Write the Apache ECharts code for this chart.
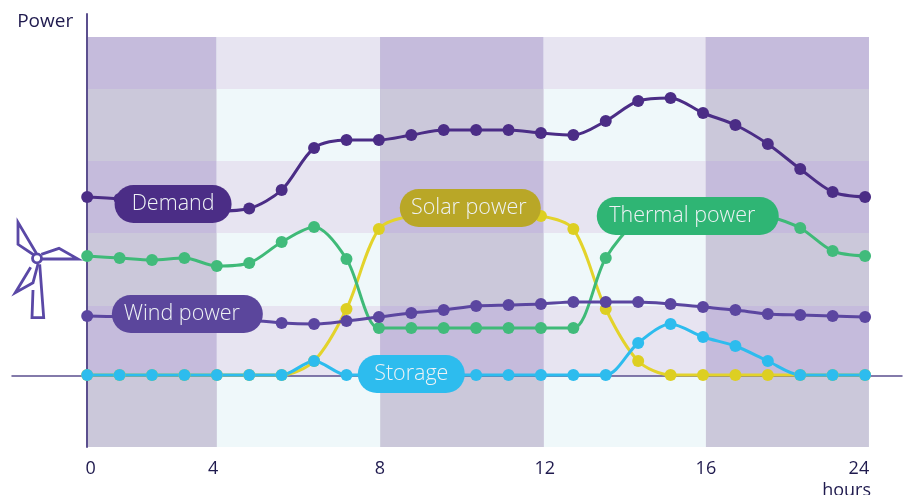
<!DOCTYPE html>
<html>
<head>
<meta charset="utf-8">
<style>html,body{margin:0;padding:0;background:#fff}#chart{width:909px;height:495px}</style>
<script src="https://cdn.jsdelivr.net/npm/echarts@6/dist/echarts.min.js"></script>
</head>
<body>
<div id="chart"></div>
<script>
// Daily power balance: sampling slots along the time axis.
const slots = [0,1,2,3,4,5,6,7,8,9,10,11,12,13,14,15,16,17,18,19,20,21,22,23,24];

const demand  = [179,177,173,168,165,167.5,186,228,236,236,241,246,246,246,243,241,255,275,278,263,251,232,207,184,179];
const thermal = [120,118,116,118,110,113,134,149,117,48,48,48,48,48,48,48,118,156,166,168,166,160,148,125,120];
const wind    = [60,59.5,59.5,59,58,56,53,52,55,59,63,66,70,71,72,74,74,74,72,69,66,62,61,60,59];
const solar   = [1,1,1,1,1,1,1,15,67,147,160,162,162,162,160,147,67,15,1,1,1,1,1,1,1];
const storage = [1,1,1,1,1,1,1,15,1,1,1,1,1,1,1,1,1,33,52,39,30,15,1,1,1];

// Time-axis labels and the slots they sit over.
const tickLabels = ['0','4','8','12','16','24'];
const tickSlots  = [0.11,3.89,9.03,14.12,19.09,23.81];

// Shaded day periods (columns) and power levels (rows).
const columnEdges = [0,4,9.04,14.09,19.09,24.12];
const rowEdges    = [-71,0,70,143,215,287,339];
const darkColumns = [true,false,true,false,true];
const darkRows    = [false,true,false,true,false,true];

const cellColor = (col, row) =>
  col ? (row ? '#c5bbdc' : '#cbc8da') : (row ? '#e7e4f1' : '#eff8fa');

// Each cell runs to the far corner and is painted over by the next one,
// which keeps hairline seams from showing between neighbours.
const bandCells = [];
darkColumns.forEach((col, c) => darkRows.forEach((row, r) => {
  bandCells.push([
    {xAxis: columnEdges[c], yAxis: rowEdges[r], itemStyle: {color: cellColor(col, row)}},
    {xAxis: columnEdges[columnEdges.length - 1], yAxis: rowEdges[rowEdges.length - 1]}
  ]);
}));

const font = '"Open Sans", "Noto Sans", sans-serif';

// Pill-shaped caption attached to a series; textShift nudges the words left inside the pill.
function pill(text, x, y, width, color, textShift) {
  return {
    z: 20,
    silent: true,
    symbol: 'circle',
    symbolSize: 0,
    data: [{coord: [x, y]}],
    label: {
      show: true, position: 'inside', formatter: text,
      width: width - textShift, height: 38, lineHeight: 38,
      padding: [0, textShift, 0, 0],
      align: 'center', verticalAlign: 'middle',
      backgroundColor: color, borderRadius: 19,
      color: '#eef2f5', fontFamily: font, fontSize: 21.5, fontWeight: 300
    }
  };
}

function line(name, values, color, markerColor, caption) {
  return {
    name, type: 'line', smooth: 0.3, z: 5,
    data: values.map((v, i) => [slots[i], v]),
    symbol: 'circle', symbolSize: 12, showSymbol: true,
    lineStyle: {color, width: 3},
    itemStyle: {color: markerColor},
    silent: true, animation: false,
    markPoint: caption
  };
}

const chart = echarts.init(document.getElementById('chart'), null, {renderer: 'canvas'});
chart.setOption({
  animation: false,
  backgroundColor: '#fff',
  grid: {left: 12, right: 7, top: 14, bottom: 48, outerBoundsMode: 'none'},
  xAxis: [
    {
      type: 'value', min: -2.32, max: 25.14, z: 3,
      axisLine: {onZero: true, lineStyle: {color: '#5b4f8e', width: 1.5}},
      axisTick: {show: false}, axisLabel: {show: false}, splitLine: {show: false}
    },
    {
      type: 'value', min: -2.32, max: 25.14, position: 'bottom',
      name: 'hours', nameLocation: 'end', nameGap: 0,
      nameTextStyle: {color: '#1f1a4e', fontFamily: font, fontSize: 18, align: 'right', verticalAlign: 'top', padding: [35, 31, 0, 0]},
      axisLine: {show: false, onZero: false}, axisTick: {show: false}, splitLine: {show: false},
      axisLabel: {
        color: '#1f1a4e', fontFamily: font, fontSize: 18, margin: 13,
        customValues: tickSlots,
        showMinLabel: true, showMaxLabel: true,
        formatter: v => tickLabels[tickSlots.indexOf(v)]
      }
    }
  ],
  yAxis: {
    type: 'value', min: -71, max: 362, z: 3,
    name: 'Power', nameLocation: 'end', nameGap: -8,
    nameTextStyle: {color: '#1f1a4e', fontFamily: font, fontSize: 19, align: 'right', verticalAlign: 'middle', padding: [0, 14, 0, 0]},
    axisLine: {show: true, onZero: true, lineStyle: {color: '#5b4f8e', width: 2}},
    axisTick: {show: false}, axisLabel: {show: false}, splitLine: {show: false}
  },
  series: [
    {
      name: 'Periods', type: 'line', data: [], silent: true, z: 1,
      markArea: {silent: true, z: 1, data: bandCells}
    },
    line('Solar power', solar, '#e3d32b', '#ddcf22', pill('Solar power', 11.82, 168, 141, '#b9a727', 3)),
    line('Thermal power', thermal, '#3fba78', '#41bb7b', pill('Thermal power', 18.53, 160, 182, '#2fb574', 11)),
    line('Wind power', wind, '#5b46a0', '#5b46a0', pill('Wind power', 3.09, 62, 151, '#5b469c', 11)),
    line('Demand', demand, '#4b2d86', '#4b2d86', pill('Demand', 2.65, 172, 117, '#4b2d86', 0)),
    line('Storage', storage, '#2dbcee', '#2dbcee', pill('Storage', 10.0, 2, 107, '#2dbcee', 0))
  ],
  // Wind turbine pictogram beside the power axis.
  graphic: {
    elements: [
      {type: 'polyline', z: 30, shape: {points: [[34,255],[18,244.3],[18,222.3],[36.3,253.3]]}, style: {fill: 'none', stroke: '#5a48a6', lineWidth: 2.8}},
      {type: 'polyline', z: 30, shape: {points: [[41.3,254.3],[59,248.3],[78,259],[42,259]]}, style: {fill: 'none', stroke: '#5a48a6', lineWidth: 2.8}},
      {type: 'polyline', z: 30, shape: {points: [[30.7,267.3],[15.3,292.7],[33,282.7],[38,264]]}, style: {fill: 'none', stroke: '#5a48a6', lineWidth: 2.8}},
      {type: 'polyline', z: 30, shape: {points: [[33,290],[32,317.7],[43.7,317.7],[39.7,264.3]]}, style: {fill: 'none', stroke: '#5a48a6', lineWidth: 2.8}},
      {type: 'circle', z: 31, shape: {cx: 37, cy: 258.3, r: 4.5}, style: {fill: '#fff', stroke: '#5a48a6', lineWidth: 2.8}}
    ]
  }
});
</script>
</body>
</html>
